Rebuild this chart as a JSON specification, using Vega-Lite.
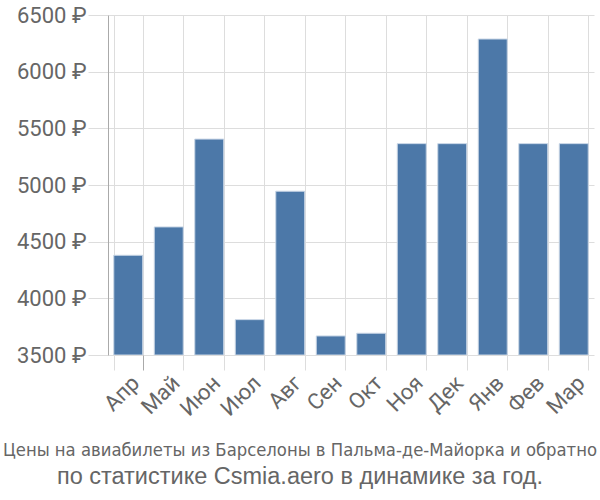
{
  "$schema": "https://vega.github.io/schema/vega-lite/v6.json",
  "width": 486,
  "height": 340,
  "autosize": {"type": "none"},
  "padding": {"left": 108, "top": 15, "right": 6, "bottom": 145},
  "background": "white",
  "data": {"values": [
    {"month": "Апр", "price": 4380},
    {"month": "Май", "price": 4630},
    {"month": "Июн", "price": 5405},
    {"month": "Июл", "price": 3812},
    {"month": "Авг", "price": 4945},
    {"month": "Сен", "price": 3668},
    {"month": "Окт", "price": 3692},
    {"month": "Ноя", "price": 5365},
    {"month": "Дек", "price": 5365},
    {"month": "Янв", "price": 6288},
    {"month": "Фев", "price": 5365},
    {"month": "Мар", "price": 5365}
  ]},
  "title": {
    "text": "Цены на авиабилеты из Барселоны в Пальма-де-Майорка и обратно",
    "subtitle": "по статистике Csmia.aero в динамике за год.",
    "orient": "bottom",
    "anchor": "middle",
    "dx": -51,
    "offset": 22,
    "font": "DejaVu Sans Condensed",
    "fontSize": 18.3,
    "fontWeight": "normal",
    "color": "#666666",
    "subtitleFont": "Liberation Sans",
    "subtitleFontSize": 23.5,
    "subtitleColor": "#666666",
    "subtitlePadding": 5
  },
  "mark": {"type": "bar", "color": "#4c78a8", "stroke": "#c9d6e6", "strokeWidth": 1, "clip": true},
  "encoding": {
    "x": {
      "field": "month",
      "type": "nominal",
      "sort": null,
      "scale": {"paddingInner": 0.285, "paddingOuter": 0.1425},
      "axis": {
        "title": null,
        "domain": false,
        "grid": true,
        "gridColor": "#dddddd",
        "tickBand": "extent",
        "tickSize": 15,
        "tickColor": {"condition": {"test": "datum.index === 0", "value": "#aaaaaa"}, "value": "#dddddd"},
        "labelAngle": -45,
        "labelFont": "Roboto",
        "labelFontSize": 22,
        "labelColor": "#666666",
        "labelPadding": 2
      }
    },
    "y": {
      "field": "price",
      "type": "quantitative",
      "scale": {"domain": [3500, 6500], "zero": false, "nice": false},
      "axis": {
        "title": null,
        "values": [3500, 4000, 4500, 5000, 5500, 6000, 6500],
        "labelExpr": "format(datum.value, 'd') + ' ₽'",
        "domain": true,
        "domainColor": "#aaaaaa",
        "gridColor": "#dddddd",
        "tickColor": "#dddddd",
        "tickSize": 20,
        "labelFont": "Roboto",
        "labelFontSize": 22,
        "labelColor": "#666666",
        "labelPadding": 2
      }
    },
    "y2": {"datum": 3500}
  },
  "config": {"view": {"stroke": null}}
}
